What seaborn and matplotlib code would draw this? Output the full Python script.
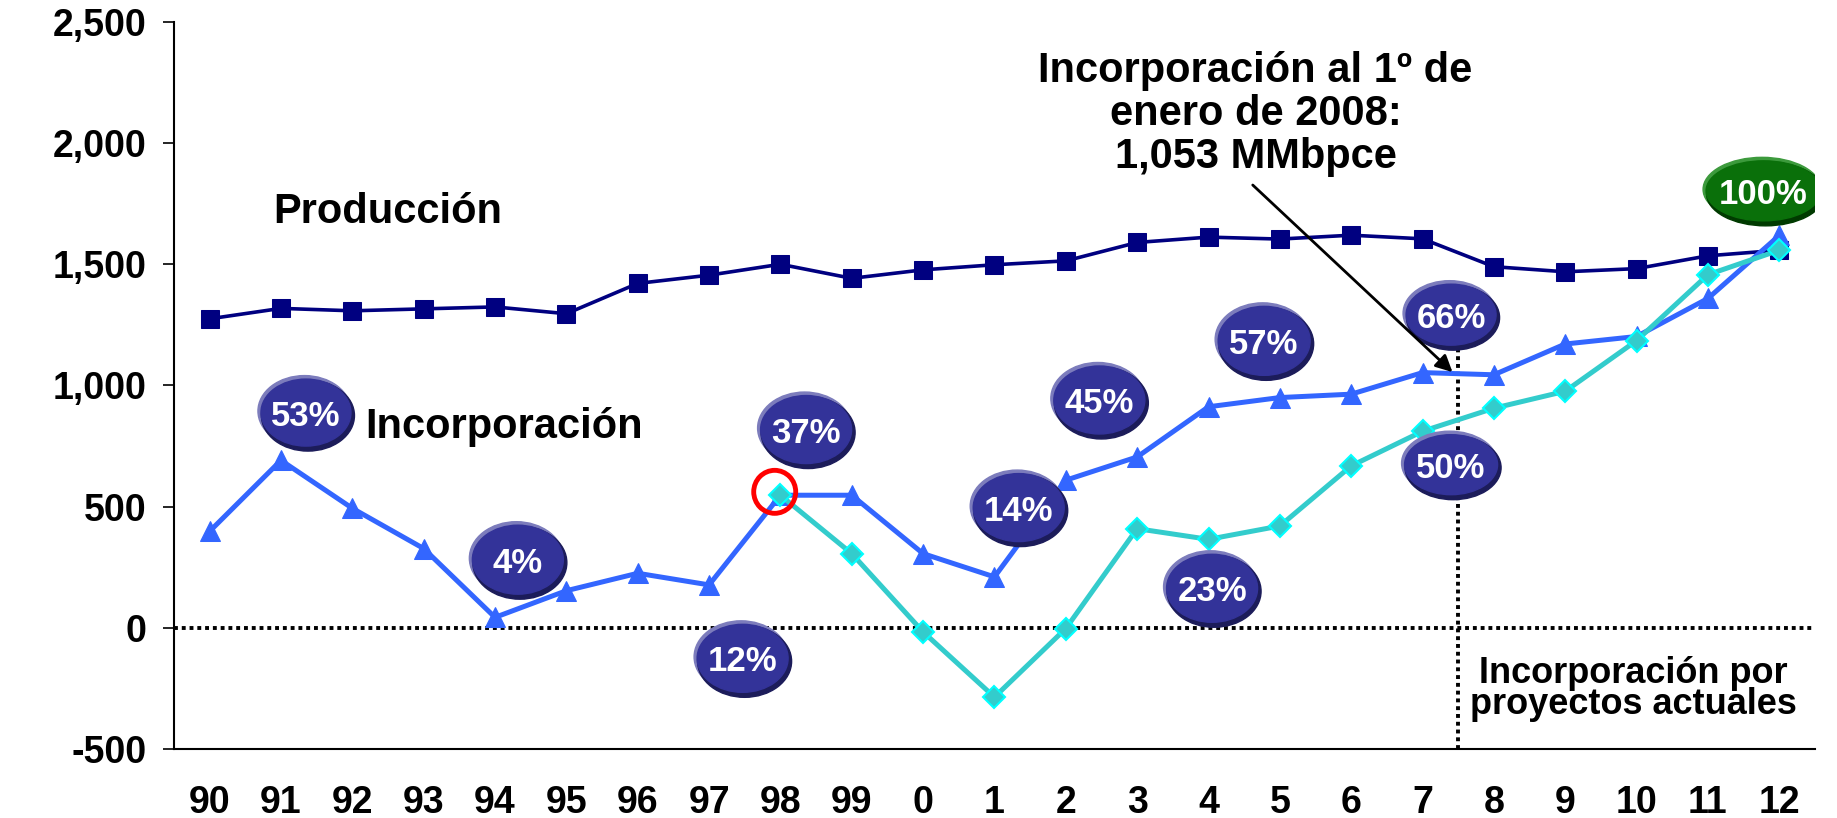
import numpy as np
import pandas as pd
import matplotlib
matplotlib.use('Agg')
import matplotlib.pyplot as plt
from matplotlib.patches import Ellipse
from matplotlib.ticker import FuncFormatter
import seaborn as sns

# Data (MMbpce)
years = ['90', '91', '92', '93', '94', '95', '96', '97', '98', '99',
         '0', '1', '2', '3', '4', '5', '6', '7', '8', '9', '10', '11', '12']
produccion = [1275, 1318, 1308, 1316, 1324, 1296, 1421, 1455, 1500, 1442,
              1477, 1498, 1514, 1590, 1612, 1604, 1620, 1605, 1490, 1469,
              1482, 1535, 1558]
incorporacion = [398, 691, 493, 327, 43, 153, 225, 177, 547, 547,
                 306, 210, 609, 705, 912, 950, 964, 1053, 1044, 1171,
                 1202, 1359, 1619]
proyectos_start = 8  # series starts in '98'
proyectos = [547, 306, -17, -286, -3, 409, 365, 420, 668, 811,
             906, 976, 1185, 1457, 1558]

# Percentage badges (label, x in category units, y in MMbpce)
badge_text = ['53%', '4%', '12%', '37%', '14%', '45%', '57%', '23%', '66%', '50%', '100%']
badge_x = [1.35, 4.32, 7.47, 8.36, 11.34, 12.47, 14.78, 14.05, 17.4, 17.4, 21.78]
badge_y = [888, 281, -126, 818, 496, 940, 1184, 163, 1292, 673, 1803]
badge_w = [93, 94, 94, 94, 94, 94, 95, 94, 93, 96, 118]   # pixels
badge_h = [71, 73, 72, 72, 72, 72, 73, 72, 65, 64, 64]

df = pd.DataFrame({'pos': np.arange(len(years)), 'year': years,
                   'produccion': produccion, 'incorporacion': incorporacion})
df_p = pd.DataFrame({'pos': np.arange(proyectos_start, proyectos_start + len(proyectos)),
                     'proyectos': proyectos})

sns.set_theme(style='white')
plt.rcParams['font.family'] = ['Liberation Sans', 'DejaVu Sans']
plt.rcParams['font.weight'] = 'bold'
plt.rcParams['text.color'] = 'black'
plt.rcParams['xtick.color'] = 'black'
plt.rcParams['ytick.color'] = 'black'
plt.rcParams['axes.labelcolor'] = 'black'

fig = plt.figure(figsize=(18.37, 8.18), dpi=100)
left, right, bottom, top = 0.0947, 0.988, 0.0844, 0.9732
ax = fig.add_axes([left, bottom, right - left, top - bottom])

sns.lineplot(data=df, x='pos', y='produccion', ax=ax, color='#000080', lw=2.6,
             marker='s', markersize=13.5, markeredgecolor='#000080', zorder=3)
sns.lineplot(data=df, x='pos', y='incorporacion', ax=ax, color='#3366FF', lw=3.6,
             marker='^', markersize=15, markeredgecolor='#3366FF', zorder=4)
sns.lineplot(data=df_p, x='pos', y='proyectos', ax=ax, color='#33CCCC', lw=3.6,
             marker='D', markersize=11, markerfacecolor='#33CCCC',
             markeredgecolor='#00FFFF', markeredgewidth=1.5, zorder=5)

ax.set_xlim(-0.5, len(years) - 0.5)
ax.set_ylim(-500, 2500)
ax.set_xlabel('')
ax.set_ylabel('')

# axes styling
for s in ['top', 'right']:
    ax.spines[s].set_visible(False)
for s in ['left', 'bottom']:
    ax.spines[s].set_color('black')
    ax.spines[s].set_linewidth(1.5)

ax.set_xticks(np.arange(len(years)))
ax.set_xticklabels(years)
ax.set_xticks(np.arange(-0.5, len(years), 1), minor=True)
ax.tick_params(axis='x', which='major', length=0, pad=26, labelsize=27)
ax.tick_params(axis='x', which='minor', direction='inout', length=15, width=1.2, color='black')
ax.set_yticks(np.arange(-500, 2501, 500))
ax.yaxis.set_major_formatter(FuncFormatter(lambda v, p: f'{v:,.0f}'))
ax.tick_params(axis='y', direction='out', length=8, width=1.2, pad=12, labelsize=27, color='black', left=True)
for lab in ax.get_xticklabels() + ax.get_yticklabels():
    lab.set_fontweight('bold')

# reference lines
ax.axhline(0, color='black', lw=2.8, ls=(0, (1, 1)), zorder=2)
ax.plot([17.5, 17.5], [-500, 1170], color='black', lw=2.8, ls=(0, (1, 1)), zorder=2)

# pixel -> data conversion for round shapes
fig_w_px = fig.get_figwidth() * fig.dpi
fig_h_px = fig.get_figheight() * fig.dpi
dx = len(years) / ((right - left) * fig_w_px)
dy = 3000 / ((top - bottom) * fig_h_px)

for t, x, y, w, h in zip(badge_text, badge_x, badge_y, badge_w, badge_h):
    if t == '100%':
        light, dark, main = '#3c9a3c', '#003a00', '#0a700a'
    else:
        light, dark, main = '#7c7cbc', '#1c1c5a', '#333399'
    ax.add_patch(Ellipse((x - 1.5 * dx, y + 1.5 * dy), w * dx, h * dy, color=light, zorder=6))
    ax.add_patch(Ellipse((x + 2 * dx, y - 3 * dy), w * dx, h * dy, color=dark, zorder=6))
    ax.add_patch(Ellipse((x, y), (w - 3) * dx, (h - 4) * dy, color=main, zorder=7))
    ax.text(x, y, t, color='white', fontsize=25, fontweight='bold',
            ha='center', va='center_baseline', zorder=8)

# red circle on 1998
ax.add_patch(Ellipse((7.92, 561), 42 * dx, 43 * dy, fill=False, edgecolor='#FF0000', lw=3.5, zorder=9))

# text labels
ax.text(0.89, 1670, 'Producción', fontsize=30, fontweight='bold', ha='left', va='baseline')
ax.text(2.18, 785, 'Incorporación', fontsize=30, fontweight='bold', ha='left', va='baseline')
ax.text(14.66, 1896, 'Incorporación al 1º de\nenero de 2008:\n1,053 MMbpce', fontsize=30,
        fontweight='bold', ha='center', va='baseline', multialignment='center', linespacing=1.1)
ax.text(19.95, -357, 'Incorporación por\nproyectos actuales', fontsize=26,
        fontweight='bold', ha='center', va='baseline', multialignment='center', linespacing=0.85)

ax.annotate('', xy=(17.42, 1055), xytext=(14.62, 1827),
            arrowprops=dict(arrowstyle='-|>', color='black', lw=2, mutation_scale=25,
                            shrinkA=0, shrinkB=0), zorder=10)

fig.savefig('out.png', dpi=100)
